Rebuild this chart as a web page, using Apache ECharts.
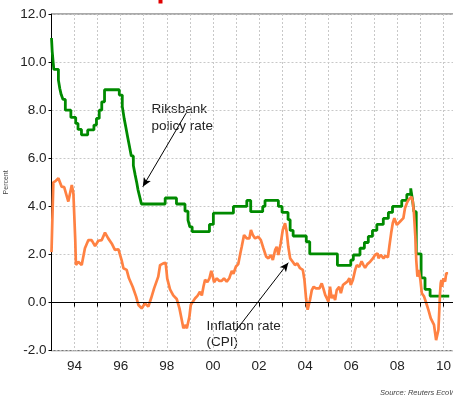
<!DOCTYPE html>
<html><head><meta charset="utf-8">
<script src="https://cdn.jsdelivr.net/npm/echarts@6/dist/echarts.min.js"></script>
<style>html,body{margin:0;padding:0;background:#fff}#c{width:453px;height:395px}</style>
</head><body><div id="c"></div>
<script>
// Riksbank policy rate: [year, new rate] change points (step line)
const policyRate = [
[1993.0,11.0],[1993.03,10.45],[1993.1,9.7],[1993.3,9.25],[1993.36,8.9],[1993.42,8.65],[1993.5,8.45],[1993.6,8.0],
[1993.84,7.7],[1994.05,7.45],[1994.15,7.2],[1994.3,6.97],[1994.57,7.18],[1994.84,7.38],[1994.95,7.66],[1995.07,8.0],
[1995.18,8.35],[1995.3,8.85],[1995.94,8.63],[1996.07,8.16],[1996.15,7.66],[1996.22,7.31],[1996.3,6.9],[1996.38,6.5],
[1996.46,6.1],[1996.55,5.7],[1996.63,5.3],[1996.7,4.97],[1996.75,4.7],[1996.8,4.5],[1996.85,4.3],[1996.9,4.1],
[1997.93,4.35],[1998.42,4.1],[1998.79,3.8],[1998.92,3.43],[1999.0,3.15],[1999.1,2.95],[1999.85,3.25],[2000.02,3.72],
[2000.89,4.0],[2001.47,4.25],[2001.64,3.78],[2002.16,4.0],[2002.26,4.25],[2002.84,4.0],[2003.0,3.75],[2003.26,3.45],
[2003.35,3.0],[2003.48,2.77],[2004.05,2.53],[2004.2,2.03],[2005.4,1.55],[2005.98,1.77],[2006.09,1.98],[2006.38,2.26],
[2006.57,2.5],[2006.74,2.75],[2006.92,3.0],[2007.11,3.25],[2007.39,3.5],[2007.61,3.75],[2007.79,4.0],[2008.19,4.25],
[2008.41,4.5],[2008.58,4.75],[2008.66,4.25],[2008.72,3.78],[2008.82,2.03],[2009.03,1.03],[2009.2,0.55],[2009.42,0.27],
[2010.25,0.27]
];
// Inflation rate (CPI), %
const inflation = [
[1993.0,2.1],[1993.08,5.0],[1993.17,5.05],[1993.3,5.17],[1993.44,4.82],[1993.55,4.8],[1993.63,4.79],[1993.73,4.2],
[1993.88,4.89],[1993.95,4.54],[1994.03,2.6],[1994.06,1.56],[1994.16,1.7],[1994.31,1.56],[1994.45,2.26],[1994.6,2.6],
[1994.74,2.6],[1994.89,2.35],[1995.03,2.57],[1995.18,2.6],[1995.32,2.91],[1995.46,2.67],[1995.61,2.46],[1995.75,2.19],
[1995.9,2.22],[1996.04,1.77],[1996.12,1.43],[1996.26,1.36],[1996.36,1.01],[1996.52,0.66],[1996.67,0.25],[1996.77,-0.1],
[1996.91,-0.24],[1997.06,-0.03],[1997.2,-0.17],[1997.32,0.18],[1997.45,0.59],[1997.53,0.66],[1997.63,1.08],[1997.71,1.56],
[1997.85,1.63],[1997.95,1.66],[1998.02,1.0],[1998.14,0.55],[1998.28,0.3],[1998.43,0.15],[1998.55,-0.24],[1998.65,-0.72],
[1998.72,-1.07],[1998.79,-0.93],[1998.87,-1.07],[1998.94,-1.14],[1998.98,-0.59],[1999.04,-0.1],[1999.13,0.04],[1999.23,0.18],
[1999.33,0.28],[1999.44,0.45],[1999.52,0.3],[1999.59,0.66],[1999.66,0.95],[1999.76,0.85],[1999.85,1.01],[1999.93,1.32],
[1999.98,1.15],[2000.05,0.85],[2000.17,1.01],[2000.28,0.9],[2000.38,0.9],[2000.48,1.01],[2000.6,0.87],[2000.71,1.01],
[2000.82,1.32],[2000.89,1.2],[2001.0,1.5],[2001.1,1.6],[2001.18,2.0],[2001.25,2.32],[2001.35,2.81],[2001.47,2.67],
[2001.58,2.67],[2001.65,3.02],[2001.73,2.81],[2001.83,2.67],[2001.97,2.74],[2002.08,2.6],[2002.19,2.26],[2002.31,1.91],
[2002.41,1.84],[2002.51,1.98],[2002.6,1.77],[2002.7,2.19],[2002.77,2.32],[2002.84,1.98],[2002.94,2.46],[2003.03,3.02],
[2003.13,3.3],[2003.2,2.95],[2003.27,2.32],[2003.35,1.84],[2003.46,1.7],[2003.56,1.56],[2003.66,1.63],[2003.78,1.43],
[2003.9,1.36],[2003.97,0.94],[2004.04,0.18],[2004.11,-0.3],[2004.21,0.11],[2004.29,0.52],[2004.37,0.66],[2004.47,0.59],
[2004.55,0.63],[2004.62,0.59],[2004.72,0.8],[2004.79,0.59],[2004.87,0.32],[2004.94,0.18],[2005.01,0.04],[2005.08,0.66],
[2005.15,0.18],[2005.22,0.32],[2005.3,0.11],[2005.37,0.52],[2005.48,0.66],[2005.55,0.39],[2005.64,0.73],[2005.73,0.8],
[2005.83,0.87],[2005.92,1.01],[2005.98,0.73],[2006.07,0.94],[2006.17,1.36],[2006.24,1.56],[2006.35,1.49],[2006.45,1.72],
[2006.53,1.56],[2006.6,1.45],[2006.7,1.6],[2006.82,1.7],[2006.94,1.84],[2007.03,1.98],[2007.14,2.05],[2007.18,1.84],
[2007.28,1.98],[2007.4,1.84],[2007.48,1.94],[2007.59,1.88],[2007.65,2.32],[2007.73,2.88],[2007.8,3.3],[2007.87,3.51],
[2007.93,3.44],[2007.98,3.23],[2008.05,3.16],[2008.12,3.37],[2008.19,3.3],[2008.26,3.51],[2008.33,3.92],[2008.41,4.13],
[2008.48,4.27],[2008.56,4.33],[2008.62,4.4],[2008.67,4.2],[2008.72,3.71],[2008.78,2.74],[2008.82,1.77],[2008.87,1.08],
[2008.93,1.36],[2009.0,0.94],[2009.06,0.39],[2009.16,0.25],[2009.28,-0.1],[2009.35,-0.31],[2009.45,-0.66],[2009.53,-0.72],
[2009.59,-0.93],[2009.64,-1.28],[2009.68,-1.56],[2009.74,-1.53],[2009.78,-1.14],[2009.82,-0.31],[2009.85,0.39],[2009.88,0.8],
[2009.91,0.94],[2009.94,0.66],[2010.0,1.01],[2010.07,0.87],[2010.12,1.22],[2010.2,1.22]
];
const yTicks = [-2, 0, 2, 4, 6, 8, 10, 12];
const xLabelYears = [1994, 1996, 1998, 2000, 2002, 2004, 2006, 2008, 2010];
const annotations = {
  policy: {text: 'Riksbank\npolicy rate', from: [1998.84, 7.88], to: [1996.96, 4.82]},
  cpi: {text: 'Inflation rate\n(CPI)', from: [2000.96, -1.21], to: [2003.27, 1.66]}
};
const FONT = 'Liberation Sans, Arial, sans-serif';

const chart = echarts.init(document.getElementById('c'), null, {renderer: 'canvas'});
const option = {
  animation: false,
  backgroundColor: '#fff',
  grid: {left: 51.5, top: 14, width: 403.5, height: 336.7, outerBoundsMode: 'none', containLabel: false,
         show: true, borderColor: '#555', borderWidth: 1, backgroundColor: 'transparent'},
  xAxis: {
    type: 'value', min: 1993, max: 2010.5, interval: 1,
    axisLine: {show: true, lineStyle: {color: '#000', width: 1}},
    axisTick: {show: true, length: 4, lineStyle: {color: '#000'}},
    splitLine: {show: true, lineStyle: {color: '#c8c8c8', type: [2, 2], width: 1}},
    axisLabel: {
      color: '#222', fontFamily: FONT, fontSize: 13.5, margin: 9,
      formatter: v => xLabelYears.indexOf(v) >= 0 ? String(v % 100).padStart(2, '0') : ''
    }
  },
  yAxis: {
    type: 'value', min: yTicks[0], max: yTicks[yTicks.length - 1], interval: 2,
    name: 'Percent', nameLocation: 'middle', nameGap: 38,
    nameTextStyle: {fontSize: 7, color: '#444', fontFamily: FONT},
    axisLine: {show: true, lineStyle: {color: '#000', width: 1}},
    axisTick: {show: true, length: 3, lineStyle: {color: '#000'}},
    splitLine: {show: true, lineStyle: {color: '#c8c8c8', type: [2, 2], width: 1}},
    axisLabel: {color: '#222', fontFamily: FONT, fontSize: 13.5, margin: 5, formatter: v => v.toFixed(1)}
  },
  series: [
    {
      name: 'Riksbank policy rate', type: 'line', step: 'end', data: policyRate,
      showSymbol: false, symbol: 'none',
      lineStyle: {color: '#008a00', width: 2.8},
      markLine: {
        silent: true, animation: false, symbolSize: [6, 9],
        lineStyle: {color: '#000', width: 1, type: 'solid'},
        label: {show: false},
        data: [
          [{coord: annotations.policy.from, symbol: 'none'}, {coord: annotations.policy.to, symbol: 'arrow'}],
          [{coord: annotations.cpi.from, symbol: 'none'}, {coord: annotations.cpi.to, symbol: 'arrow'}]
        ]
      },
      z: 3
    },
    {
      name: 'Inflation rate (CPI)', type: 'line', data: inflation,
      showSymbol: false, symbol: 'none',
      lineStyle: {color: '#ff8142', width: 2.7},
      markLine: {
        silent: true, animation: false, symbol: 'none',
        lineStyle: {color: '#000', width: 1, type: 'solid'},
        label: {show: false},
        data: [{yAxis: 0}]
      },
      z: 4
    }
  ],
  graphic: [
    {type: 'text', left: 151.5, top: 100.5, style: {text: annotations.policy.text, font: '13.5px ' + FONT, fill: '#222', lineHeight: 17}},
    {type: 'text', left: 206.5, top: 318, style: {text: annotations.cpi.text, font: '13.5px ' + FONT, fill: '#222', lineHeight: 16.5}},
    {type: 'text', left: 380, top: 389, style: {text: 'Source: Reuters EcoWin', font: 'italic 7.5px ' + FONT, fill: '#444'}},
    {type: 'rect', shape: {x: 158.5, y: 0, width: 4, height: 3.5}, style: {fill: '#e00000'}}
  ]
};
chart.setOption(option);
</script></body></html>
